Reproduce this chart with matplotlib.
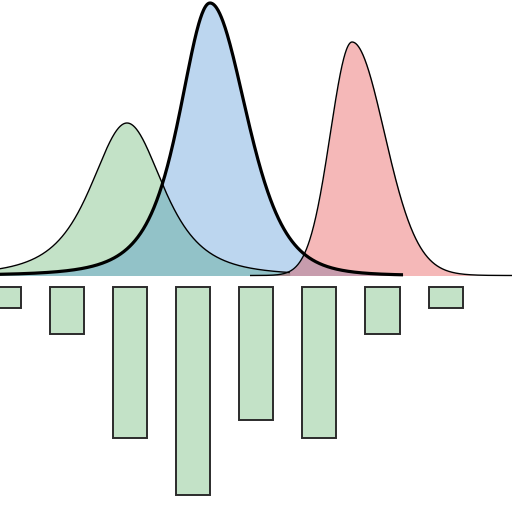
import numpy as np
import matplotlib
matplotlib.use("Agg")
import matplotlib.pyplot as plt

# bars hanging below the baseline (bin index, depth)
bins = [0, 1, 2, 3, 4, 5, 6, 7]
depth = [0.21, 0.475, 1.51, 2.085, 1.335, 1.51, 0.475, 0.215]

# curves: peak position, peak height, left scale, left nu, right scale, right nu, x range
names = ["green", "blue", "red"]
peaks = [1.951, 3.266, 5.517]
heights = [1.525, 2.725, 2.335]
left_scale = [0.6, 0.512, 0.345]
left_nu = [3.0, 3.0, 200.0]
right_scale = [0.6, 0.59, 0.52]
right_nu = [3.0, 6.0, 40.0]
x_from = [-0.5, -0.5, 3.9]
x_to = [4.53, 6.325, 8.2]

colors = {"green": "#3aa248", "blue": "#237acd", "red": "#e11616"}
widths = {"green": 1.0, "blue": 2.3, "red": 1.0}


def split_t(x, m, h, sl, nl, sr, nr):
    left = x < m
    z = np.where(left, (x - m) / sl, (x - m) / sr)
    nu = np.where(left, nl, nr)
    return h * (1 + z**2 / nu) ** (-(nu + 1) / 2)


fig = plt.figure(figsize=(5.12, 5.12), dpi=100)
ax = fig.add_axes([0, 0, 1, 1])

for i, n in enumerate(names):
    x = np.linspace(x_from[i], x_to[i], 800)
    y = split_t(x, peaks[i], heights[i], left_scale[i], left_nu[i],
                right_scale[i], right_nu[i])
    ax.fill_between(x, 0, y, color=colors[n], alpha=0.3, lw=0)
    ax.plot(x, y, color="black", lw=widths[n], solid_capstyle="butt")

gap = 0.11
ax.bar(bins, [-d for d in depth], bottom=-gap, width=0.54,
       color=colors["green"], alpha=0.3, lw=0)
ax.bar(bins, [-d for d in depth], bottom=-gap, width=0.54,
       fill=False, edgecolor="#2b2b2b", lw=1.4)

ax.set_xlim(-0.062, 8.052)
ax.set_ylim(-2.365, 2.755)
ax.axis("off")

fig.savefig("out.png", dpi=100)
